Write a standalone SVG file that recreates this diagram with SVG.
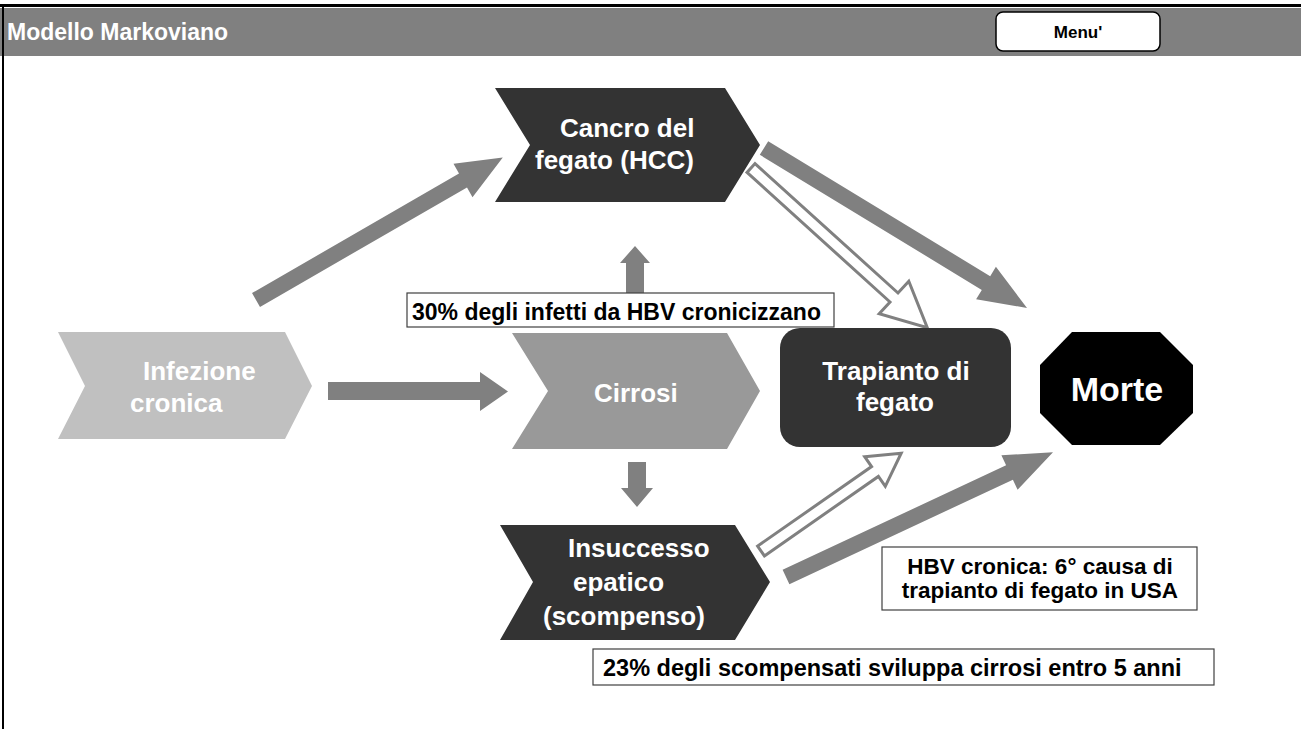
<svg xmlns="http://www.w3.org/2000/svg" width="1301" height="729" viewBox="0 0 1301 729">
  <style>
    text { font-family: "Liberation Sans", Arial, sans-serif; font-weight: bold; }
    .node-txt { font-size: 26px; fill: #ffffff; }
    .note-txt { fill: #000000; }
    .note-box { fill: #ffffff; stroke: #404040; stroke-width: 1.2; }
    .arrow { fill: #808080; }
    .arrow-open { fill: #ffffff; stroke: #808080; stroke-width: 3; stroke-linejoin: miter; }
    .dark { fill: #333333; }
  </style>

  <!-- page frame and header bar -->
  <rect x="0" y="0" width="1301" height="729" fill="#ffffff"/>
  <rect x="0" y="4" width="1301" height="3" fill="#000000"/>
  <rect x="0" y="8" width="1301" height="48" fill="#808080"/>
  <rect x="2" y="7" width="2" height="722" fill="#000000"/>
  <text x="7" y="40" font-size="23" fill="#ffffff">Modello Markoviano</text>
  <g id="menu-button">
    <rect x="996" y="12" width="164" height="39" rx="7" fill="#ffffff" stroke="#000000" stroke-width="1.5"/>
    <text x="1078" y="38" font-size="17" fill="#000000" text-anchor="middle">Menu'</text>
  </g>

  <!-- transition arrows -->
  <g id="connectors">
    <polygon class="arrow" points="328,382 480,382 480,372 508,391.5 480,411 480,400 328,400"/>
    <polygon class="arrow" points="260,306.9 467,187.4 472.5,197.2 502.8,157.5 453.5,163.8 459,173.6 252,293.1"/>
    <polygon class="arrow" points="626,296 626,263 620,263 635,246 650,263 644,263 644,296"/>
    <polygon class="arrow" points="628,462 646,462 646,488 653,488 637,507 621,488 628,488"/>
    <polygon class="arrow" points="759.8,154.8 981.8,289.9 976.1,299.3 1027,308 995.9,266.8 990.2,276.2 768.2,141.2"/>
    <polygon class="arrow-open" points="747,172.4 890,302 879.2,313.8 927.3,327.7 908.8,281.2 898,293 755,163.6"/>
    <polygon class="arrow-open" points="764.4,555.9 878.4,476.4 885.3,486.3 901.2,453.2 864.7,456.7 871.6,466.6 757.6,546.1"/>
    <polygon class="arrow" points="789.4,584.2 1012.9,479.7 1017.6,489.7 1053,452.2 1001.4,455.3 1006.1,465.3 782.6,569.8"/>
  </g>

  <!-- states -->
  <g id="infezione-cronica">
    <polygon points="58,332 285,332 312,386 285,439 58,439 85,386" fill="#c0c0c0"/>
    <text class="node-txt" x="143" y="380">Infezione</text>
    <text class="node-txt" x="130" y="412">cronica</text>
  </g>

  <g id="cancro-fegato">
    <polygon class="dark" points="495,88 725,88 760,145 725,202 495,202 530,145"/>
    <text class="node-txt" x="560" y="137">Cancro del</text>
    <text class="node-txt" x="535" y="169">fegato (HCC)</text>
  </g>

  <g id="cirrosi">
    <polygon points="512,333 727,333 760,391 727,449 512,449 548,391" fill="#999999"/>
    <text class="node-txt" x="594" y="402">Cirrosi</text>
  </g>

  <g id="insuccesso-epatico">
    <polygon class="dark" points="500,525 735,525 770,582 735,640 500,640 533,582"/>
    <text class="node-txt" x="568" y="557">Insuccesso</text>
    <text class="node-txt" x="573" y="591">epatico</text>
    <text class="node-txt" x="543" y="625">(scompenso)</text>
  </g>

  <g id="trapianto-fegato">
    <rect class="dark" x="780" y="328" width="231" height="119" rx="20"/>
    <text class="node-txt" x="896" y="380" text-anchor="middle">Trapianto di</text>
    <text class="node-txt" x="895" y="411" text-anchor="middle">fegato</text>
  </g>

  <g id="morte">
    <polygon points="1072,332 1160,332 1193,365 1193,413 1160,445 1072,445 1040,413 1040,365" fill="#000000"/>
    <text x="1117" y="401" font-size="34" fill="#ffffff" text-anchor="middle">Morte</text>
  </g>

  <!-- notes -->
  <g id="note-cronicizzano">
    <rect class="note-box" x="407" y="293" width="427" height="34"/>
    <text class="note-txt" x="412" y="320" font-size="23">30% degli infetti da HBV cronicizzano</text>
  </g>

  <g id="note-usa">
    <rect class="note-box" x="882" y="547" width="315" height="63"/>
    <text class="note-txt" x="1040" y="574" font-size="22.5" text-anchor="middle">HBV cronica: 6° causa di</text>
    <text class="note-txt" x="1040" y="598" font-size="22.5" text-anchor="middle">trapianto di fegato in USA</text>
  </g>

  <g id="note-scompensati">
    <rect class="note-box" x="593" y="649" width="621" height="36"/>
    <text class="note-txt" x="603" y="676" font-size="23.5">23% degli scompensati sviluppa cirrosi entro 5 anni</text>
  </g>
</svg>
